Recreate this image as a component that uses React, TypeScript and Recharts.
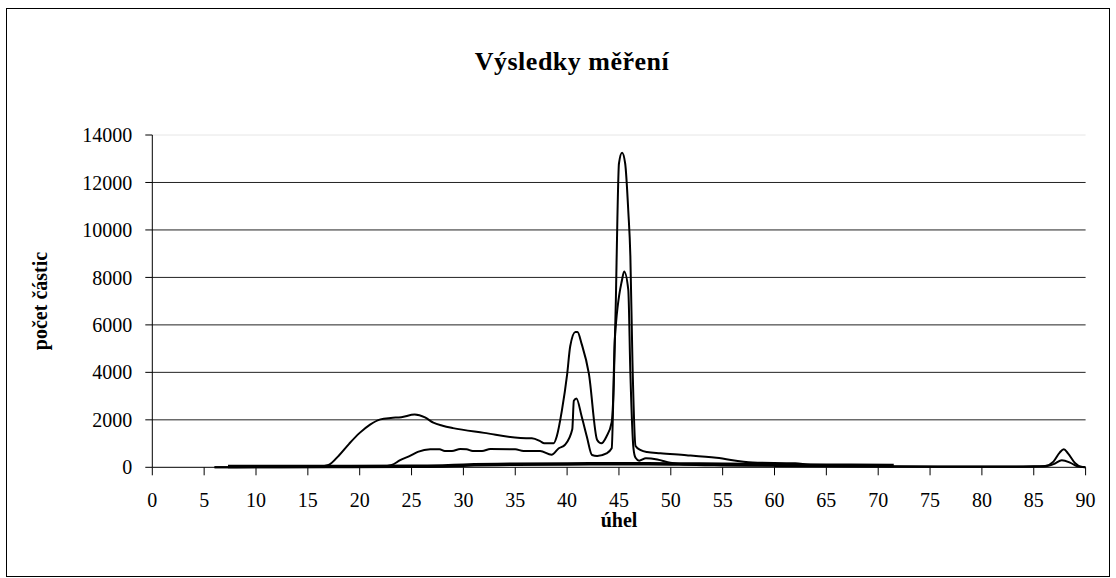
import React from 'react';
import {
    LineChart, Line, XAxis, YAxis, CartesianGrid, ReferenceLine,
} from 'recharts';

// angle (x) / particle count (y)
const seriesA: [number, number][] = [
    [6, 0], [10, 10], [16, 20], [17, 100], [18, 500], [19, 1000], [20, 1450], [21, 1800],
    [22, 2020], [23, 2080], [24, 2110], [25.3, 2220], [26.3, 2100], [27.1, 1880], [28, 1750],
    [29, 1650], [32, 1450], [35.5, 1230], [36.6, 1220], [37.4, 1100], [37.8, 1010], [38.7, 1010],
    [39, 1300], [39.5, 2400], [40, 3900], [40.3, 5100], [40.8, 5700], [41, 5700], [41.4, 5200],
    [42.1, 3950], [42.9, 1150], [43.3, 1010], [43.8, 1300], [44.3, 1900], [44.5, 3500],
    [44.7, 7000], [44.85, 10500], [45, 12800], [45.3, 13250], [45.6, 12800], [45.9, 10800],
    [46.1, 8900], [46.3, 4500], [46.6, 900], [47.1, 720], [47.7, 640], [49, 590], [51.5, 510],
    [54.4, 400], [57.9, 200], [62, 170], [63.2, 110], [65, 60], [70, 40], [80, 30], [85, 40],
    [86.1, 60], [86.9, 240], [87.5, 620], [87.9, 760], [88.3, 590], [89, 170], [89.5, 30], [90, 0],
];

const seriesB: [number, number][] = [
    [6, 0], [22, 20], [23.1, 97], [23.9, 300], [24.8, 470], [25.6, 650], [26.8, 760], [27.7, 760],
    [28.2, 690], [28.9, 690], [29.7, 770], [30.3, 760], [30.9, 690], [31.8, 690], [32.6, 770],
    [35, 760], [35.8, 690], [37.4, 690], [38.5, 530], [39.2, 800], [39.8, 950], [40.5, 1600],
    [40.65, 2800], [40.9, 2900], [41.4, 2150], [41.9, 1300], [42.4, 520], [42.9, 480], [43.8, 590],
    [44.3, 800], [44.6, 5370], [45.3, 7900], [45.5, 8250], [45.9, 7480], [46.1, 4000], [46.4, 800],
    [46.6, 400], [46.95, 280], [47.6, 380], [48.7, 330], [49.95, 190], [51.2, 120], [55, 80],
    [60, 60], [70, 30], [80, 20], [86, 30], [87, 150], [87.7, 300], [88.5, 200], [89.2, 40], [90, 0],
];

const seriesC: [number, number][] = [
    [7.3, 30], [15, 30], [25, 40], [28, 60], [30, 90], [35, 130], [40, 140], [45, 150],
    [50, 140], [55, 130], [60, 110], [65, 90], [71.5, 80],
];

const xTicks = [0, 5, 10, 15, 20, 25, 30, 35, 40, 45, 50, 55, 60, 65, 70, 75, 80, 85, 90];
const yTicks = [0, 2000, 4000, 6000, 8000, 10000, 12000, 14000];

const toRows = (s: [number, number][]) => s.map(([x, y]) => ({ x, y }));

const FONT = '"Liberation Serif", "Times New Roman", serif';
const tickStyle = { fill: '#000', fontSize: 20, fontFamily: FONT };

export default function App() {
    return (
        <div style={{
            position: 'absolute', left: 6, top: 8, width: 1104, height: 569,
            border: '1px solid #000', boxSizing: 'border-box', background: '#fff',
            fontFamily: FONT,
        }}>
            <div style={{
                position: 'absolute', left: 565, top: 40, transform: 'translateX(-50%)',
                fontSize: 26, lineHeight: '26px', fontWeight: 700, letterSpacing: 0.5,
                whiteSpace: 'nowrap',
            }}>
                Výsledky měření
            </div>
            <div style={{
                position: 'absolute', left: 33, top: 292,
                transform: 'translate(-50%, -50%) rotate(-90deg)',
                fontSize: 20, fontWeight: 700, whiteSpace: 'nowrap',
            }}>
                počet částic
            </div>
            <div style={{
                position: 'absolute', left: 612, top: 511, transform: 'translate(-50%, -50%)',
                fontSize: 20, fontWeight: 700, whiteSpace: 'nowrap',
            }}>
                úhel
            </div>
            <LineChart
                width={1102}
                height={567}
                margin={{ top: 126, right: 23.4, left: 0, bottom: 78.7 }}
            >
                <CartesianGrid
                    vertical={false}
                    stroke="#222"
                    horizontalValues={[2000, 4000, 6000, 8000, 10000, 12000]}
                />
                <ReferenceLine y={14000} stroke="#e6e6e6" />
                <XAxis
                    type="number"
                    dataKey="x"
                    domain={[0, 90]}
                    ticks={xTicks}
                    allowDataOverflow
                    height={30}
                    stroke="#000"
                    tickSize={8}
                    tickMargin={17}
                    tick={tickStyle}
                    tickLine={{ stroke: '#000' }}
                    axisLine={{ stroke: '#000' }}
                />
                <YAxis
                    type="number"
                    domain={[0, 14000]}
                    ticks={yTicks}
                    width={145.3}
                    stroke="#000"
                    tickSize={7}
                    tickMargin={13}
                    tick={tickStyle}
                    tickLine={{ stroke: '#000' }}
                    axisLine={{ stroke: '#000' }}
                />
                <Line data={toRows(seriesC)} dataKey="y" type="monotone" stroke="#000"
                    strokeWidth={3.5} dot={false} isAnimationActive={false} />
                <Line data={toRows(seriesB)} dataKey="y" type="monotone" stroke="#000"
                    strokeWidth={2} dot={false} isAnimationActive={false} />
                <Line data={toRows(seriesA)} dataKey="y" type="monotone" stroke="#000"
                    strokeWidth={2} dot={false} isAnimationActive={false} />
            </LineChart>
        </div>
    );
}
